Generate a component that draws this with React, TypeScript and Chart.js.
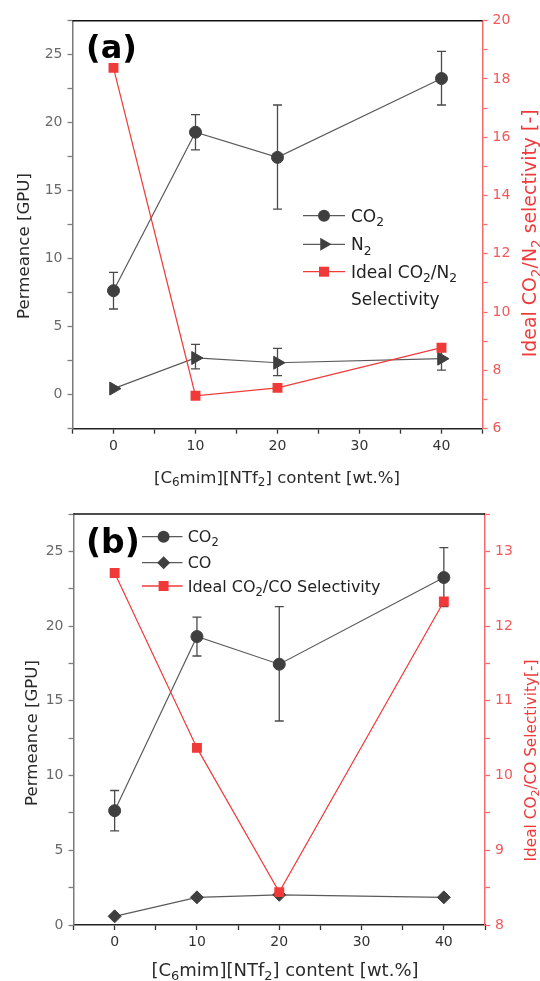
import React, { useEffect, useRef } from 'react';
import { Chart, registerables } from 'chart.js';

Chart.register(...registerables);

// ---------------- data ----------------
const contentWt = [0, 10, 20, 40];
const co2Permeance = [7.65, 19.3, 17.45, 23.25];
const co2ErrLow = [6.3, 18.0, 13.65, 21.3];
const co2ErrHigh = [9.0, 20.6, 21.3, 25.25];
const n2Permeance = [0.45, 2.7, 2.35, 2.65];
const n2ErrLow: (number | null)[] = [null, 1.9, 1.4, 1.8];
const n2ErrHigh: (number | null)[] = [null, 3.7, 3.4, 3.5];
const co2n2Selectivity = [18.38, 7.13, 7.4, 8.78];
const coPermeance = [0.58, 1.85, 2.02, 1.85];
const co2coSelectivity = [12.71, 10.37, 8.44, 12.33];

const xTickLabels = [0, 10, 20, 30, 40];
const permeanceTickLabels = [0, 5, 10, 15, 20, 25];
const selN2TickLabels = [6, 8, 10, 12, 14, 16, 18, 20];
const selCoTickLabels = [8, 9, 10, 11, 12, 13];

type Seg = [string, boolean];
const xTitleSegs: Seg[] = [['[C', false], ['6', true], ['mim][NTf', false], ['2', true], ['] content [wt.%]', false]];
const yLeftTitleSegs: Seg[] = [['Permeance [GPU]', false]];
const yRightTitleASegs: Seg[] = [['Ideal CO', false], ['2', true], ['/N', false], ['2', true], [' selectivity [-]', false]];
const yRightTitleBSegs: Seg[] = [['Ideal CO', false], ['2', true], ['/CO Selectivity[-]', false]];
const legendCO2: Seg[] = [['CO', false], ['2', true]];
const legendN2: Seg[] = [['N', false], ['2', true]];
const legendCO: Seg[] = [['CO', false]];
const legendSelN2: Seg[] = [['Ideal CO', false], ['2', true], ['/N', false], ['2', true]];
const legendSelN2b: Seg[] = [['Selectivity', false]];
const legendSelCO: Seg[] = [['Ideal CO', false], ['2', true], ['/CO Selectivity', false]];
const panelLabelA = '(a)';
const panelLabelB = '(b)';

// ---------------- styles ----------------
const FONT = "'DejaVu Sans', sans-serif";
const GRAY_LINE = '#5a5a5a';
const GRAY_MARK = '#3f3f3f';
const RED = '#f03a3a';
const RED_AXIS = '#f36a6a';
const RED_TEXT = '#f05a5a';

function drawRich(ctx: CanvasRenderingContext2D, segs: Seg[], x: number, y: number, size: number, color: string, align: 'left' | 'center') {
  const sub = size * 0.72;
  const widths = segs.map(([t, s]) => {
    ctx.font = `${s ? sub : size}px ${FONT}`;
    return ctx.measureText(t).width;
  });
  const total = widths.reduce((a, b) => a + b, 0);
  let cx = align === 'center' ? x - total / 2 : x;
  ctx.fillStyle = color;
  ctx.textAlign = 'left';
  ctx.textBaseline = 'alphabetic';
  segs.forEach(([t, s], i) => {
    ctx.font = `${s ? sub : size}px ${FONT}`;
    ctx.fillText(t, cx, s ? y + size * 0.24 : y);
    cx += widths[i];
  });
}

function drawMarker(ctx: CanvasRenderingContext2D, kind: string, x: number, y: number, color: string) {
  ctx.fillStyle = color;
  ctx.beginPath();
  if (kind === 'circle') {
    ctx.arc(x, y, 6, 0, Math.PI * 2);
  } else if (kind === 'triangle') {
    const r = 7.5;
    ctx.moveTo(x + r, y);
    ctx.lineTo(x - r / 2, y - r * 0.866);
    ctx.lineTo(x - r / 2, y + r * 0.866);
    ctx.closePath();
  } else if (kind === 'diamond') {
    const r = 6.5;
    ctx.moveTo(x, y - r);
    ctx.lineTo(x + r, y);
    ctx.lineTo(x, y + r);
    ctx.lineTo(x - r, y);
    ctx.closePath();
  } else {
    ctx.rect(x - 5, y - 5, 10, 10);
  }
  ctx.fill();
}

const errorBarPlugin = {
  id: 'errBars',
  beforeDatasetsDraw(chart: any, _args: any, opts: any) {
    const { ctx } = chart;
    const xs = chart.scales.x;
    const ys = chart.scales.y;
    ctx.save();
    ctx.strokeStyle = '#4a4a4a';
    ctx.lineWidth = 1.3;
    (opts.bars || []).forEach((b: any) => {
      contentWt.forEach((xv, i) => {
        const lo = b.low[i];
        const hi = b.high[i];
        if (lo == null || hi == null) return;
        const px = xs.getPixelForValue(xv);
        const p1 = ys.getPixelForValue(lo);
        const p2 = ys.getPixelForValue(hi);
        ctx.beginPath();
        ctx.moveTo(px, p1);
        ctx.lineTo(px, p2);
        ctx.moveTo(px - 4.5, p1);
        ctx.lineTo(px + 4.5, p1);
        ctx.moveTo(px - 4.5, p2);
        ctx.lineTo(px + 4.5, p2);
        ctx.stroke();
      });
    });
    ctx.restore();
  },
};

function makeDecorPlugin(spec: any) {
  return {
    id: 'decor',
    afterDraw(chart: any) {
      const { ctx, chartArea } = chart;
      ctx.save();
      // top frame
      ctx.strokeStyle = '#111';
      ctx.lineWidth = 1.5;
      ctx.beginPath();
      ctx.moveTo(chartArea.left, chartArea.top);
      ctx.lineTo(chartArea.right, chartArea.top);
      ctx.stroke();
      // panel label
      ctx.font = `bold ${spec.labelSize}px ${FONT}`;
      ctx.fillStyle = '#000';
      ctx.textAlign = 'left';
      ctx.textBaseline = 'alphabetic';
      ctx.fillText(spec.label, spec.labelX, spec.labelY);
      // legend
      const lg = spec.legend;
      lg.items.forEach((it: any) => {
        ctx.strokeStyle = it.lineColor;
        ctx.lineWidth = 1.3;
        ctx.beginPath();
        ctx.moveTo(lg.x1, it.y);
        ctx.lineTo(lg.x2, it.y);
        ctx.stroke();
        drawMarker(ctx, it.marker, lg.mx, it.y, it.color);
        drawRich(ctx, it.segs, lg.tx, it.y + lg.size * 0.36, lg.size, '#222', 'left');
        if (it.extra) drawRich(ctx, it.extra, lg.tx, it.extraY + lg.size * 0.36, lg.size, '#222', 'left');
      });
      // left title
      ctx.save();
      ctx.translate(spec.leftTitle.x, spec.leftTitle.y);
      ctx.rotate(-Math.PI / 2);
      drawRich(ctx, yLeftTitleSegs, 0, 0, spec.leftTitle.size, '#2a2a2a', 'center');
      ctx.restore();
      // right title
      ctx.save();
      ctx.translate(spec.rightTitle.x, spec.rightTitle.y);
      ctx.rotate(-Math.PI / 2);
      drawRich(ctx, spec.rightTitle.segs, 0, 0, spec.rightTitle.size, RED, 'center');
      ctx.restore();
      // x title
      drawRich(ctx, xTitleSegs, spec.xTitle.x, spec.xTitle.y, spec.xTitle.size, '#2a2a2a', 'center');
      ctx.restore();
    },
  };
}

function labelCb(labels: number[]) {
  return (v: any) => {
    const n = Number(v);
    const hit = labels.find((l) => Math.abs(l - n) < 1e-6);
    return hit === undefined ? '' : String(hit);
  };
}

function pts(ys: number[]) {
  return contentWt.map((x, i) => ({ x, y: ys[i] }));
}

function buildConfig(spec: any): any {
  const tickFont = { family: FONT, size: 14 };
  return {
    type: 'line',
    data: { datasets: spec.datasets },
    options: {
      animation: false,
      responsive: false,
      maintainAspectRatio: false,
      layout: { padding: { top: spec.padTop, left: 0, right: 0, bottom: 0 } },
      plugins: {
        legend: { display: false },
        tooltip: { enabled: false },
        errBars: { bars: spec.errorBars },
      },
      scales: {
        x: {
          type: 'linear',
          min: -5,
          max: 45,
          afterFit: (s: any) => { s.height = spec.xAxisH; },
          ticks: { stepSize: 5, autoSkip: false, maxRotation: 0, includeBounds: true, color: '#333', font: tickFont, padding: 4, callback: labelCb(xTickLabels) },
          grid: { drawOnChartArea: false, drawTicks: true, tickLength: 5, color: '#333', tickColor: '#333', tickWidth: 1.3 },
          border: { color: '#222', width: 1.5 },
        },
        y: {
          type: 'linear',
          position: 'left',
          min: spec.yMin,
          max: spec.yMax,
          afterFit: (s: any) => { s.width = spec.leftW; },
          ticks: { stepSize: 2.5, autoSkip: false, color: '#6a6a6a', font: tickFont, padding: 5, callback: labelCb(permeanceTickLabels) },
          grid: { drawOnChartArea: false, drawTicks: true, tickLength: 5, color: '#808080', tickColor: '#808080', tickWidth: 1.3 },
          border: { color: '#7a7a7a', width: 1.5 },
        },
        y1: {
          type: 'linear',
          position: 'right',
          min: spec.y1Min,
          max: spec.y1Max,
          afterFit: (s: any) => { s.width = spec.rightW; },
          ticks: { stepSize: spec.y1Step, autoSkip: false, color: RED_TEXT, font: tickFont, padding: 5, callback: labelCb(spec.y1Labels) },
          grid: { drawOnChartArea: false, drawTicks: true, tickLength: 5, color: RED_AXIS, tickColor: RED_AXIS, tickWidth: 1.3 },
          border: { color: RED_AXIS, width: 1.5 },
        },
      },
    },
    plugins: [errorBarPlugin, makeDecorPlugin(spec)],
  };
}

function grayDs(label: string, ys: number[], style: string, radius: number, rot: number, order: number) {
  return {
    label,
    data: pts(ys),
    yAxisID: 'y',
    borderColor: GRAY_LINE,
    borderWidth: 1.2,
    backgroundColor: GRAY_MARK,
    pointBackgroundColor: GRAY_MARK,
    pointBorderColor: GRAY_MARK,
    pointBorderWidth: 1,
    pointStyle: style,
    pointRadius: radius,
    pointRotation: rot,
    tension: 0,
    order,
  };
}

function redDs(label: string, ys: number[]) {
  return {
    label,
    data: pts(ys),
    yAxisID: 'y1',
    borderColor: RED,
    borderWidth: 1.2,
    backgroundColor: RED,
    pointBackgroundColor: RED,
    pointBorderColor: RED,
    pointBorderWidth: 0,
    pointStyle: 'rect',
    pointRadius: 7,
    tension: 0,
    order: 0,
  };
}

const specA = {
  padTop: 20.7,
  xAxisH: 61.3,
  leftW: 72.5,
  rightW: 57.5,
  yMin: -2.5,
  yMax: 27.5,
  y1Min: 6,
  y1Max: 20,
  y1Step: 1,
  y1Labels: selN2TickLabels,
  datasets: [
    redDs('Ideal CO2/N2 Selectivity', co2n2Selectivity),
    grayDs('CO2', co2Permeance, 'circle', 6, 0, 1),
    grayDs('N2', n2Permeance, 'triangle', 7.5, 90, 2),
  ],
  errorBars: [
    { low: co2ErrLow, high: co2ErrHigh },
    { low: n2ErrLow, high: n2ErrHigh },
  ],
  label: panelLabelA,
  labelSize: 32,
  labelX: 86,
  labelY: 58,
  legend: {
    x1: 303, x2: 345, mx: 324, tx: 351, size: 17,
    items: [
      { y: 215.7, marker: 'circle', color: GRAY_MARK, lineColor: GRAY_LINE, segs: legendCO2 },
      { y: 244.3, marker: 'triangle', color: GRAY_MARK, lineColor: GRAY_LINE, segs: legendN2 },
      { y: 271.7, marker: 'rect', color: RED, lineColor: RED, segs: legendSelN2, extra: legendSelN2b, extraY: 299.3 },
    ],
  },
  leftTitle: { x: 28.5, y: 246, size: 16.6 },
  rightTitle: { x: 536, y: 233.3, size: 18.9, segs: yRightTitleASegs },
  xTitle: { x: 277, y: 482.5, size: 16.6 },
};

const specB = {
  padTop: 24,
  xAxisH: 56,
  leftW: 73.5,
  rightW: 55,
  yMin: 0,
  yMax: 27.5,
  y1Min: 8,
  y1Max: 13.5,
  y1Step: 0.5,
  y1Labels: selCoTickLabels,
  datasets: [
    redDs('Ideal CO2/CO Selectivity', co2coSelectivity),
    grayDs('CO2', co2Permeance, 'circle', 6, 0, 1),
    grayDs('CO', coPermeance, 'rectRot', 6.5, 0, 2),
  ],
  errorBars: [{ low: co2ErrLow, high: co2ErrHigh }],
  label: panelLabelB,
  labelSize: 33,
  labelX: 86,
  labelY: 63,
  legend: {
    x1: 142, x2: 182.5, mx: 163.6, tx: 187.7, size: 16,
    items: [
      { y: 46.7, marker: 'circle', color: GRAY_MARK, lineColor: GRAY_LINE, segs: legendCO2 },
      { y: 72.7, marker: 'diamond', color: GRAY_MARK, lineColor: GRAY_LINE, segs: legendCO },
      { y: 96, marker: 'rect', color: RED, lineColor: RED, segs: legendSelCO },
    ],
  },
  leftTitle: { x: 37, y: 243, size: 16.6 },
  rightTitle: { x: 535.5, y: 270.5, size: 15.3, segs: yRightTitleBSegs },
  xTitle: { x: 285, y: 485.5, size: 18 },
};

function Panel({ spec, top, height }: { spec: any; top: number; height: number }) {
  const ref = useRef<HTMLCanvasElement | null>(null);
  useEffect(() => {
    if (!ref.current) return;
    const chart = new Chart(ref.current, buildConfig(spec));
    return () => chart.destroy();
  }, [spec]);
  return (
    <canvas
      ref={ref}
      width={540}
      height={height}
      style={{ position: 'absolute', left: 0, top, width: 540, height, display: 'block' }}
    />
  );
}

export default function App() {
  return (
    <div style={{ position: 'absolute', left: 0, top: 0, width: 540, height: 981, background: '#fff', overflow: 'hidden' }}>
      <Panel spec={specA} top={0} height={490} />
      <Panel spec={specB} top={490} height={491} />
    </div>
  );
}
